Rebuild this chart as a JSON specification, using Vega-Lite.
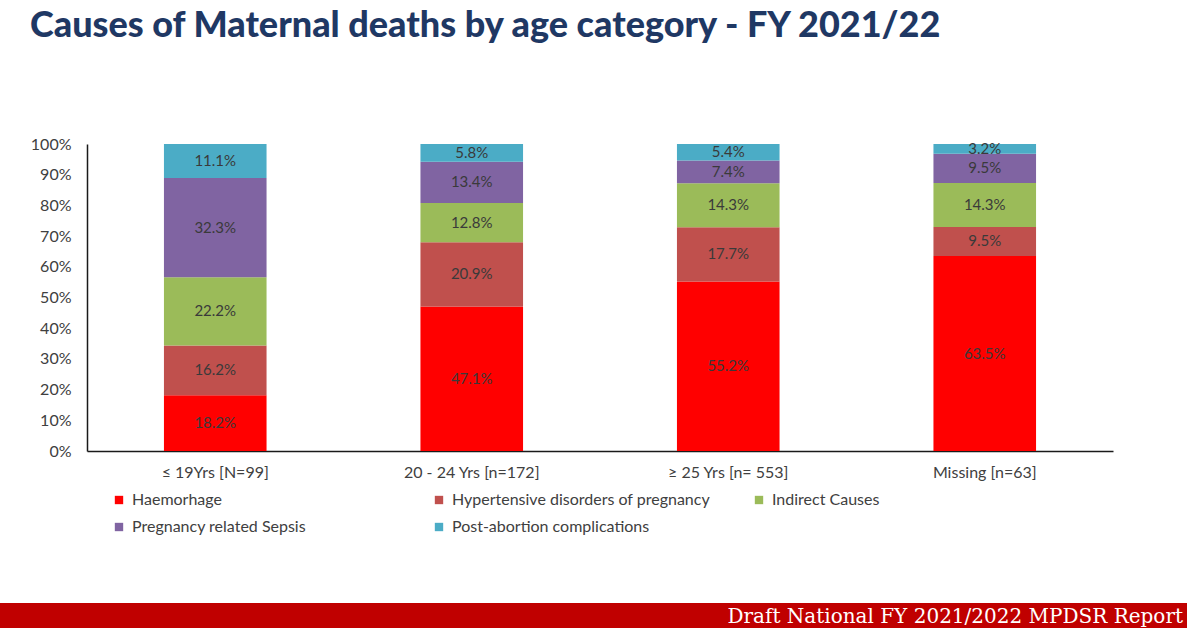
{
  "$schema": "https://vega.github.io/schema/vega-lite/v6.json",
  "background": "white",
  "padding": {"left": 0, "top": 8, "right": 0, "bottom": 0},
  "autosize": {"type": "pad"},
  "title": {
    "text": "Causes of Maternal deaths by age category - FY 2021/22",
    "anchor": "start",
    "frame": "bounds",
    "dx": 30,
    "offset": 91,
    "font": "Lato",
    "fontSize": 36,
    "fontWeight": 900,
    "color": "#1F3864"
  },
  "columns": 1,
  "bounds": "full",
  "spacing": 123,
  "concat": [
    {
      "width": 1026,
      "height": 307,
      "data": {
        "values": [
          {"age": "≤ 19Yrs [N=99]", "cause": "Haemorhage", "k": 1, "pct": 0.182},
          {"age": "≤ 19Yrs [N=99]", "cause": "Hypertensive disorders of pregnancy", "k": 2, "pct": 0.162},
          {"age": "≤ 19Yrs [N=99]", "cause": "Indirect Causes", "k": 3, "pct": 0.222},
          {"age": "≤ 19Yrs [N=99]", "cause": "Pregnancy related Sepsis", "k": 4, "pct": 0.323},
          {"age": "≤ 19Yrs [N=99]", "cause": "Post-abortion complications", "k": 5, "pct": 0.111},
          {"age": "20 - 24 Yrs [n=172]", "cause": "Haemorhage", "k": 1, "pct": 0.471},
          {"age": "20 - 24 Yrs [n=172]", "cause": "Hypertensive disorders of pregnancy", "k": 2, "pct": 0.209},
          {"age": "20 - 24 Yrs [n=172]", "cause": "Indirect Causes", "k": 3, "pct": 0.128},
          {"age": "20 - 24 Yrs [n=172]", "cause": "Pregnancy related Sepsis", "k": 4, "pct": 0.134},
          {"age": "20 - 24 Yrs [n=172]", "cause": "Post-abortion complications", "k": 5, "pct": 0.058},
          {"age": "≥ 25 Yrs [n= 553]", "cause": "Haemorhage", "k": 1, "pct": 0.552},
          {"age": "≥ 25 Yrs [n= 553]", "cause": "Hypertensive disorders of pregnancy", "k": 2, "pct": 0.177},
          {"age": "≥ 25 Yrs [n= 553]", "cause": "Indirect Causes", "k": 3, "pct": 0.143},
          {"age": "≥ 25 Yrs [n= 553]", "cause": "Pregnancy related Sepsis", "k": 4, "pct": 0.074},
          {"age": "≥ 25 Yrs [n= 553]", "cause": "Post-abortion complications", "k": 5, "pct": 0.054},
          {"age": "Missing [n=63]", "cause": "Haemorhage", "k": 1, "pct": 0.635},
          {"age": "Missing [n=63]", "cause": "Hypertensive disorders of pregnancy", "k": 2, "pct": 0.095},
          {"age": "Missing [n=63]", "cause": "Indirect Causes", "k": 3, "pct": 0.143},
          {"age": "Missing [n=63]", "cause": "Pregnancy related Sepsis", "k": 4, "pct": 0.095},
          {"age": "Missing [n=63]", "cause": "Post-abortion complications", "k": 5, "pct": 0.032}
        ]
      },
      "encoding": {
        "x": {
          "field": "age",
          "type": "nominal",
          "sort": null,
          "scale": {"paddingInner": 0.6, "paddingOuter": 0.3},
          "axis": {
            "title": null,
            "labelAngle": 0,
            "labelFont": "Lato",
            "labelFontSize": 16,
            "labelColor": "#404040",
            "labelPadding": 13,
            "ticks": false,
            "domainColor": "#1a1a1a",
            "domainWidth": 1.5
          }
        },
        "y": {
          "field": "pct",
          "type": "quantitative",
          "stack": "zero",
          "scale": {"domain": [0, 1], "nice": false},
          "axis": {
            "title": null,
            "format": ".0%",
            "values": [0, 0.1, 0.2, 0.3, 0.4, 0.5, 0.6, 0.7, 0.8, 0.9, 1],
            "grid": false,
            "ticks": false,
            "labelFont": "Lato",
            "labelFontSize": 16,
            "labelColor": "#404040",
            "labelPadding": 16,
            "minExtent": 87,
            "domainColor": "#1a1a1a",
            "domainWidth": 1.5
          }
        },
        "order": {"field": "k", "type": "quantitative"}
      },
      "layer": [
        {
          "mark": {"type": "bar"},
          "encoding": {
            "color": {
              "field": "cause",
              "type": "nominal",
              "scale": {
                "domain": ["Haemorhage", "Hypertensive disorders of pregnancy", "Indirect Causes", "Pregnancy related Sepsis", "Post-abortion complications"],
                "range": ["#FF0000", "#C0504D", "#9BBB59", "#8064A2", "#4BACC6"]
              },
              "legend": {
                "title": null,
                "orient": "none",
                "legendX": 24,
                "legendY": 348,
                "direction": "horizontal",
                "columns": 3,
                "gridAlign": "all",
                "columnPadding": 41,
                "rowPadding": 11,
                "symbolType": "square",
                "symbolSize": 70,
                "symbolStrokeWidth": 0,
                "labelFont": "Lato",
                "labelFontSize": 16,
                "labelColor": "#404040",
                "labelOffset": 5,
                "labelLimit": 400
              }
            }
          }
        },
        {
          "mark": {"type": "text", "font": "Lato", "fontSize": 15, "color": "#3a3a3a", "baseline": "middle"},
          "encoding": {
            "y": {"field": "pct", "type": "quantitative", "stack": "zero", "bandPosition": 0.5},
            "text": {"field": "pct", "type": "quantitative", "format": ".1%"}
          }
        }
      ]
    },
    {
      "width": 1100,
      "height": 25,
      "data": {"values": [{"footer": "Draft National FY 2021/2022 MPDSR Report"}]},
      "layer": [
        {
          "mark": {"type": "rect", "color": "#C00000", "xOffset": -87},
          "encoding": {
            "x": {"value": 0},
            "x2": {"value": "width"},
            "y": {"value": 0},
            "y2": {"value": "height"}
          }
        },
        {
          "mark": {"type": "text", "font": "DejaVu Serif", "fontSize": 20, "color": "white", "align": "right", "baseline": "alphabetic", "dx": -4, "dy": -5},
          "encoding": {
            "text": {"field": "footer", "type": "nominal"},
            "x": {"value": "width"},
            "y": {"value": "height"}
          }
        }
      ]
    }
  ],
  "config": {"view": {"stroke": null}, "font": "Lato"}
}
